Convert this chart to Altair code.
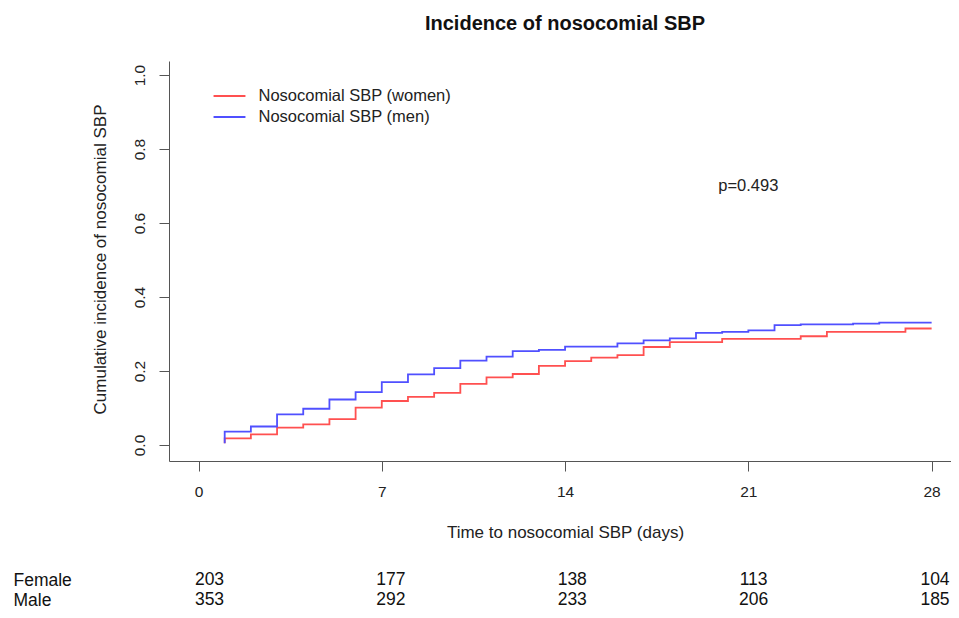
import altair as alt
import pandas as pd

# ---------------- data ----------------
chart_title = "Incidence of nosocomial SBP"
x_title = "Time to nosocomial SBP (days)"
y_title = "Cumulative incidence of nosocomial SBP"
series_names = ["Nosocomial SBP (women)", "Nosocomial SBP (men)"]
series_colors = ["#ff5050", "#5050ff"]

women_days = [1, 1, 2, 3, 4, 5, 6, 7, 8, 9, 10, 11, 12, 13, 14, 15, 16, 17, 18, 20, 23, 24, 27, 28]
women_cum = [0.005, 0.018, 0.029, 0.047, 0.056, 0.070, 0.101, 0.119, 0.130, 0.141, 0.165, 0.183,
             0.192, 0.214, 0.227, 0.236, 0.243, 0.265, 0.278, 0.287, 0.294, 0.306, 0.315, 0.315]

men_days = [1, 1, 2, 3, 4, 5, 6, 7, 8, 9, 10, 11, 12, 13, 14, 16, 17, 18, 19, 20, 21, 22, 23, 25, 26, 28]
men_cum = [0.005, 0.036, 0.050, 0.083, 0.098, 0.123, 0.143, 0.170, 0.191, 0.208, 0.228, 0.239, 0.254,
           0.257, 0.266, 0.275, 0.283, 0.288, 0.303, 0.306, 0.310, 0.324, 0.326, 0.328, 0.331, 0.331]

x_ticks = [0, 7, 14, 21, 28]
y_ticks = [0.0, 0.2, 0.4, 0.6, 0.8, 1.0]

p_label = ["p=0.493"]
p_day = [21]
p_cum = [0.70]

risk_groups = ["Female", "Male"]
risk_days = [0, 7, 14, 21, 28]
risk_female = [203, 177, 138, 113, 104]
risk_male = [353, 292, 233, 206, 185]

FONT = "Liberation Sans"
AX = "#555555"
TXT = "#222222"

# ---------------- tables ----------------
rows = []
for i, (d, v) in enumerate(zip(women_days, women_cum)):
    rows.append({"series": series_names[0], "day": d, "cum": v, "idx": i})
for i, (d, v) in enumerate(zip(men_days, men_cum)):
    rows.append({"series": series_names[1], "day": d, "cum": v, "idx": i})
curve_df = pd.DataFrame(rows)

p_df = pd.DataFrame({"day": p_day, "cum": p_cum, "label": p_label})

risk_rows = []
for g, counts in zip(risk_groups, [risk_female, risk_male]):
    for d, n in zip(risk_days, counts):
        risk_rows.append({"group": g, "day": d, "n": n})
risk_df = pd.DataFrame(risk_rows)

# ---------------- main plot ----------------
x_scale = alt.Scale(domain=[-1.127, 28.74], nice=False, zero=False)
y_scale = alt.Scale(domain=[-0.0432, 1.038], nice=False, zero=False)

x_axis = alt.Axis(values=x_ticks, format="d", labelAngle=0, tickSize=10, labelPadding=13,
                  labelFontSize=15.5, labelFont=FONT, labelColor=TXT, labelBaseline="top",
                  domainColor=AX, tickColor=AX, grid=False,
                  title=x_title, titleFont=FONT, titleFontSize=17, titleFontWeight="normal",
                  titleColor=TXT, titleX=396, titleY=71, titleAlign="center",
                  titleBaseline="middle")
y_axis = alt.Axis(values=y_ticks, format=".1f", labelAngle=270, labelAlign="center",
                  labelBaseline="alphabetic", tickSize=10, labelPadding=14.6,
                  labelFontSize=15.5, labelFont=FONT, labelColor=TXT,
                  domainColor=AX, tickColor=AX, grid=False,
                  title=y_title, titleFont=FONT, titleFontSize=17, titleFontWeight="normal",
                  titleColor=TXT, titleAngle=270, titleX=-69, titleY=198,
                  titleAlign="center", titleBaseline="middle")

curves = alt.Chart(curve_df).mark_line(interpolate="step-after", strokeWidth=1.8).encode(
    x=alt.X("day:Q", scale=x_scale, axis=x_axis),
    y=alt.Y("cum:Q", scale=y_scale, axis=y_axis),
    color=alt.Color("series:N",
                    scale=alt.Scale(domain=series_names, range=series_colors),
                    legend=alt.Legend(title=None, orient="none", legendX=48.5, legendY=23,
                                      symbolType="M-1.45,0H1.45", symbolSize=484,
                                      symbolStrokeWidth=1.8, labelFont=FONT, labelFontSize=16.5,
                                      labelColor=TXT, labelOffset=17, padding=0,
                                      rowPadding=0, labelLimit=400)),
    order=alt.Order("idx:Q"),
)

ptext = alt.Chart(p_df).mark_text(font=FONT, fontSize=16.5, color=TXT).encode(
    x=alt.X("day:Q", scale=x_scale),
    y=alt.Y("cum:Q", scale=y_scale),
    text="label:N",
)

main = alt.layer(curves, ptext)

# ---------------- number-at-risk table ----------------
risk = alt.Chart(risk_df).mark_text(font=FONT, fontSize=17.5, color="#111111",
                                    baseline="middle").encode(
    x=alt.X("day:Q", scale=alt.Scale(domain=[-1.563, 28.618], nice=False, zero=False),
            axis=None),
    y=alt.Y("group:N",
            scale=alt.Scale(type="point", domain=risk_groups, range=[519, 539], padding=0),
            axis=alt.Axis(orient="left", title=None, domain=False, ticks=False, tickSize=0,
                          labelAlign="left", labelBaseline="middle", labelPadding=156,
                          labelFont=FONT, labelFontSize=17.5, labelColor="#111111")),
    text="n:Q",
)

chart = alt.layer(main, risk).resolve_scale(x="independent", y="independent").properties(
    width=782,
    height=400,
    autosize=alt.AutoSizeParams(type="none"),
    padding={"left": 161, "top": 53, "right": 0, "bottom": 149},
    title=alt.TitleParams(chart_title, font=FONT, fontSize=20, fontWeight="bold",
                          color="#111111", anchor="middle", dx=5, offset=7,
                          baseline="bottom", frame="group"),
).configure_view(stroke=None)

chart.save("out.html", embed_options={"renderer": "svg", "actions": False})
